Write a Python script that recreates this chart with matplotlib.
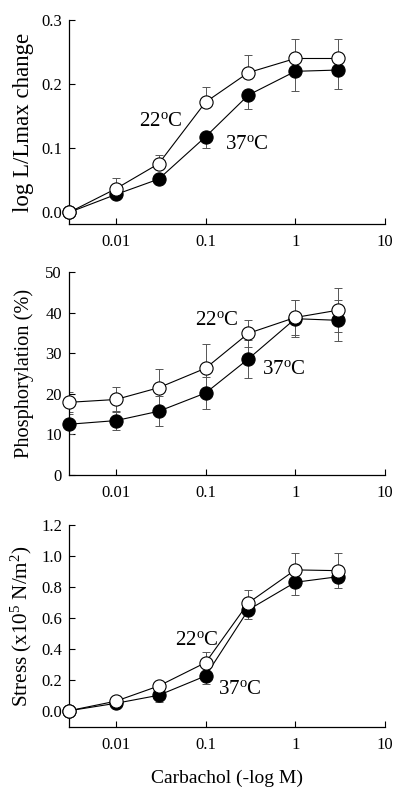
import numpy as np
import matplotlib
matplotlib.use("Agg")
import matplotlib.pyplot as plt
from matplotlib.ticker import FixedLocator, FixedFormatter, NullLocator

plt.rcParams["font.family"] = ["Liberation Serif", "DejaVu Serif"]
plt.rcParams["mathtext.fontset"] = "custom"
plt.rcParams["mathtext.rm"] = "Liberation Serif"
plt.rcParams["mathtext.it"] = "Liberation Serif:italic"

# ----- data ----------------------------------------------------------------
carbachol = [0.003, 0.01, 0.03, 0.1, 0.3, 1, 3]

# panel 1: log L/Lmax change
len_22 = [0.0, 0.037, 0.076, 0.172, 0.218, 0.240, 0.240]
len_22_err = [0.0, 0.017, 0.014, 0.024, 0.028, 0.030, 0.031]
len_37 = [0.0, 0.028, 0.052, 0.118, 0.183, 0.220, 0.222]
len_37_err = [0.0, 0.004, 0.008, 0.018, 0.021, 0.030, 0.029]

# panel 2: phosphorylation (%)
phos_22 = [17.9, 18.6, 21.5, 26.3, 34.9, 38.8, 40.6]
phos_22_err = [2.5, 3.0, 4.7, 6.0, 3.4, 4.4, 5.4]
phos_37 = [12.5, 13.4, 15.7, 20.2, 28.6, 38.5, 38.1]
phos_37_err = [2.5, 2.4, 3.7, 4.0, 4.6, 4.5, 5.0]

# panel 3: stress (x10^5 N/m^2)
str_22 = [0.0, 0.062, 0.160, 0.311, 0.697, 0.910, 0.905]
str_22_err = [0.0, 0.010, 0.012, 0.066, 0.082, 0.112, 0.115]
str_37 = [0.0, 0.048, 0.100, 0.225, 0.652, 0.830, 0.866]
str_37_err = [0.0, 0.008, 0.045, 0.053, 0.060, 0.079, 0.070]

x_ticks = [0.01, 0.1, 1, 10]
x_ticklabels = ["0.01", "0.1", "1", "10"]

W, H = 403, 793
fig = plt.figure(figsize=(W / 100, H / 100), dpi=100)


def px_axes(left, top, right, bottom):
    return fig.add_axes([left / W, 1 - bottom / H, (right - left) / W, (bottom - top) / H])


def style(ax, ylim, yticks, ylabels, ylabel, ylabel_size):
    ax.set_xscale("log")
    ax.set_xlim(0.003, 10)
    ax.set_ylim(*ylim)
    ax.xaxis.set_major_locator(FixedLocator(x_ticks))
    ax.xaxis.set_major_formatter(FixedFormatter(x_ticklabels))
    ax.xaxis.set_minor_locator(NullLocator())
    ax.set_yticks(yticks)
    ax.set_yticklabels(ylabels)
    for s in ("top", "right"):
        ax.spines[s].set_visible(False)
    ax.spines["left"].set_bounds(ylim[0], yticks[-1])
    for s in ("left", "bottom"):
        ax.spines[s].set_linewidth(0.9)
    ax.tick_params(direction="in", length=4, width=0.8, labelsize=12)
    ax.tick_params(axis="x", pad=7)
    ax.tick_params(axis="y", pad=5)
    ax.set_ylabel(ylabel, fontsize=ylabel_size)
    ax.yaxis.set_label_coords(-0.112, 0.5)


def draw(ax, y22, e22, y37, e37, both=False):
    z = np.zeros(len(carbachol))
    err37 = [e37, e37] if both else [e37, z]
    err22 = [e22, e22] if both else [z, e22]
    ax.errorbar(carbachol, y37, yerr=err37, fmt="none", ecolor="#555555",
                elinewidth=0.7, capsize=3, capthick=0.7, zorder=2)
    ax.errorbar(carbachol, y22, yerr=err22, fmt="none", ecolor="#555555",
                elinewidth=0.7, capsize=3, capthick=0.7, zorder=2)
    ax.plot(carbachol, y37, "o-", color="black", lw=0.8, ms=9.5,
            mfc="black", mec="black", mew=0.8, zorder=3, clip_on=False)
    ax.plot(carbachol, y22, "o-", color="black", lw=0.8, ms=9.5,
            mfc="white", mec="black", mew=0.8, zorder=4, clip_on=False)


def temp_label(ax, x, y, t):
    ax.text(x, y, t + r"$^{\rm o}$C", fontsize=15, ha="center", va="center")


# ----- panel 1 --------------------------------------------------------------
ax1 = px_axes(69, 20, 385, 224)
style(ax1, (-0.018, 0.3), [0.0, 0.1, 0.2, 0.3], ["0.0", "0.1", "0.2", "0.3"],
      "log L/Lmax change", 16.5)
draw(ax1, len_22, len_22_err, len_37, len_37_err)
temp_label(ax1, 0.032, 0.142, "22")
temp_label(ax1, 0.29, 0.106, "37")

# ----- panel 2 --------------------------------------------------------------
ax2 = px_axes(69, 272, 385, 475)
style(ax2, (0, 50), [0, 10, 20, 30, 40, 50], ["0", "10", "20", "30", "40", "50"],
      "Phosphorylation (%)", 14.7)
draw(ax2, phos_22, phos_22_err, phos_37, phos_37_err, both=True)
temp_label(ax2, 0.132, 38.0, "22")
temp_label(ax2, 0.75, 26.0, "37")

# ----- panel 3 --------------------------------------------------------------
ax3 = px_axes(69, 525, 385, 727)
style(ax3, (-0.105, 1.2), [0.0, 0.2, 0.4, 0.6, 0.8, 1.0, 1.2],
      ["0.0", "0.2", "0.4", "0.6", "0.8", "1.0", "1.2"],
      r"Stress (x10$^5$ N/m$^2$)", 15.2)
draw(ax3, str_22, str_22_err, str_37, str_37_err)
temp_label(ax3, 0.079, 0.454, "22")
temp_label(ax3, 0.24, 0.135, "37")
ax3.set_xlabel("Carbachol (-log M)", fontsize=14, labelpad=12)

fig.savefig("out.png", dpi=100)
